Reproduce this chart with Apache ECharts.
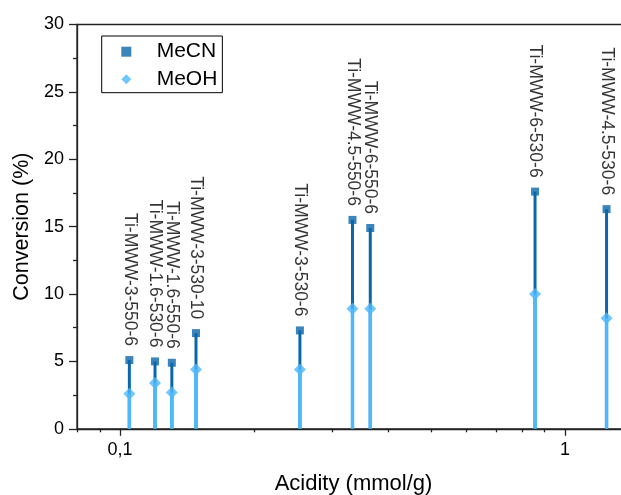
<!DOCTYPE html>
<html>
<head>
<meta charset="utf-8">
<script src="https://cdn.jsdelivr.net/npm/echarts@6/dist/echarts.min.js"></script>
<style>
html,body{margin:0;padding:0;background:#fff;}
#chart{width:621px;height:495px;}
</style>
</head>
<body>
<div id="chart"></div>
<script>
const sampleNames = ['Ti-MWW-3-550-6','Ti-MWW-1.6-530-6','Ti-MWW-1.6-550-6','Ti-MWW-3-530-10','Ti-MWW-3-530-6','Ti-MWW-4.5-550-6','Ti-MWW-6-550-6','Ti-MWW-6-530-6','Ti-MWW-4.5-530-6'];
const acidity = [0.1049, 0.1198, 0.1307, 0.1481, 0.2536, 0.3329, 0.365, 0.8564, 1.240];
const mecn = [5.1, 5.0, 4.9, 7.1, 7.3, 15.5, 14.9, 17.6, 16.3];
const meoh = [2.6, 3.4, 2.7, 4.4, 4.4, 8.9, 8.9, 10.0, 8.2];
const xMajorTicks = [0.1, 1];
const xMinorTicks = [0.08, 0.09, 0.2, 0.3, 0.4, 0.5, 0.6, 0.7, 0.8, 0.9];

const FONT = '"Liberation Sans", Arial, sans-serif';
const C_MECN = '#0a67a9';
const C_MEOH = '#4db8fb';

function stemSeries(name, vals, color, width, z) {
  return {
    type: 'custom', name: name, coordinateSystem: 'cartesian2d',
    xAxisIndex: 0, yAxisIndex: 0, silent: true, z: z,
    data: acidity.map((x, i) => [x, vals[i]]),
    renderItem: function (params, api) {
      const p1 = api.coord([api.value(0), api.value(1)]);
      const p0 = api.coord([api.value(0), 0]);
      return {type: 'line', shape: {x1: p1[0], y1: p1[1], x2: p0[0], y2: p0[1]},
              style: {stroke: color, lineWidth: width}};
    }
  };
}

const chart = echarts.init(document.getElementById('chart'), null, {renderer: 'canvas'});
chart.setOption({
  animation: false,
  backgroundColor: '#fff',
  textStyle: {fontFamily: FONT},
  grid: {left: 77, top: 24.5, width: 553, height: 404.3, show: true, borderColor: '#222', borderWidth: 1.3,
         containLabel: false, outerBoundsMode: 'none'},
  legend: {
    orient: 'vertical', left: 101.7, top: 36,
    padding: [4.7, 5, 2.4, 19.6], itemGap: 5.6, itemWidth: 10, itemHeight: 10,
    borderColor: '#000', borderWidth: 1,
    textStyle: {fontSize: 21, fontFamily: FONT, color: '#000', lineHeight: 22, padding: [0, 0, 0, 20.4]},
    data: [{name: 'MeCN', icon: 'rect'}, {name: 'MeOH', icon: 'diamond'}]
  },
  xAxis: [
    {
      type: 'log', logBase: 10, min: 0.08, max: 1.4, position: 'bottom',
      name: 'Acidity (mmol/g)', nameLocation: 'middle', nameGap: 44,
      nameTextStyle: {fontSize: 22, color: '#000', fontFamily: FONT},
      axisLine: {show: true, lineStyle: {color: '#222', width: 1.3}},
      axisTick: {show: true, inside: false, length: 7, customValues: xMajorTicks, lineStyle: {color: '#222', width: 1.3}},
      axisLabel: {show: true, margin: 12, fontSize: 18, color: '#000', fontFamily: FONT,
                  customValues: xMajorTicks, formatter: v => String(v).replace('.', ',')},
      splitLine: {show: false}
    },
    {
      type: 'log', logBase: 10, min: 0.08, max: 1.4, position: 'bottom', offset: 0,
      axisLine: {show: false},
      axisTick: {show: true, inside: false, length: 3.5, customValues: xMinorTicks, lineStyle: {color: '#222', width: 1.3}},
      axisLabel: {show: false},
      splitLine: {show: false}
    }
  ],
  yAxis: {
    type: 'value', min: 0, max: 30, interval: 5,
    name: 'Conversion (%)', nameLocation: 'middle', nameGap: 44, nameRotate: 90,
    nameTextStyle: {fontSize: 21.5, color: '#000', fontFamily: FONT},
    axisLine: {show: true, lineStyle: {color: '#222', width: 1.3}},
    axisTick: {show: true, inside: false, length: 8, lineStyle: {color: '#222', width: 1.3}},
    minorTick: {show: true, splitNumber: 2, length: 4, lineStyle: {color: '#222', width: 1.3}},
    axisLabel: {margin: 13, fontSize: 18, color: '#000', fontFamily: FONT},
    splitLine: {show: false}, minorSplitLine: {show: false}
  },
  series: [
    stemSeries('MeCN stem', mecn, C_MECN, 3, 2),
    stemSeries('MeOH stem', meoh, C_MEOH, 3.5, 3),
    {
      type: 'scatter', name: 'MeCN', xAxisIndex: 0, z: 4,
      symbol: 'rect', symbolSize: 8, itemStyle: {color: C_MECN},
      data: acidity.map((x, i) => [x, mecn[i]]),
      label: {show: true, position: 'top', distance: 10, rotate: -90, align: 'right', verticalAlign: 'middle',
              fontSize: 17.5, color: '#000', fontFamily: FONT,
              formatter: p => sampleNames[p.dataIndex]}
    },
    {
      type: 'scatter', name: 'MeOH', xAxisIndex: 0, z: 5,
      symbol: 'diamond', symbolSize: 12, itemStyle: {color: C_MEOH},
      data: acidity.map((x, i) => [x, meoh[i]])
    }
  ]
});
</script>
</body>
</html>
